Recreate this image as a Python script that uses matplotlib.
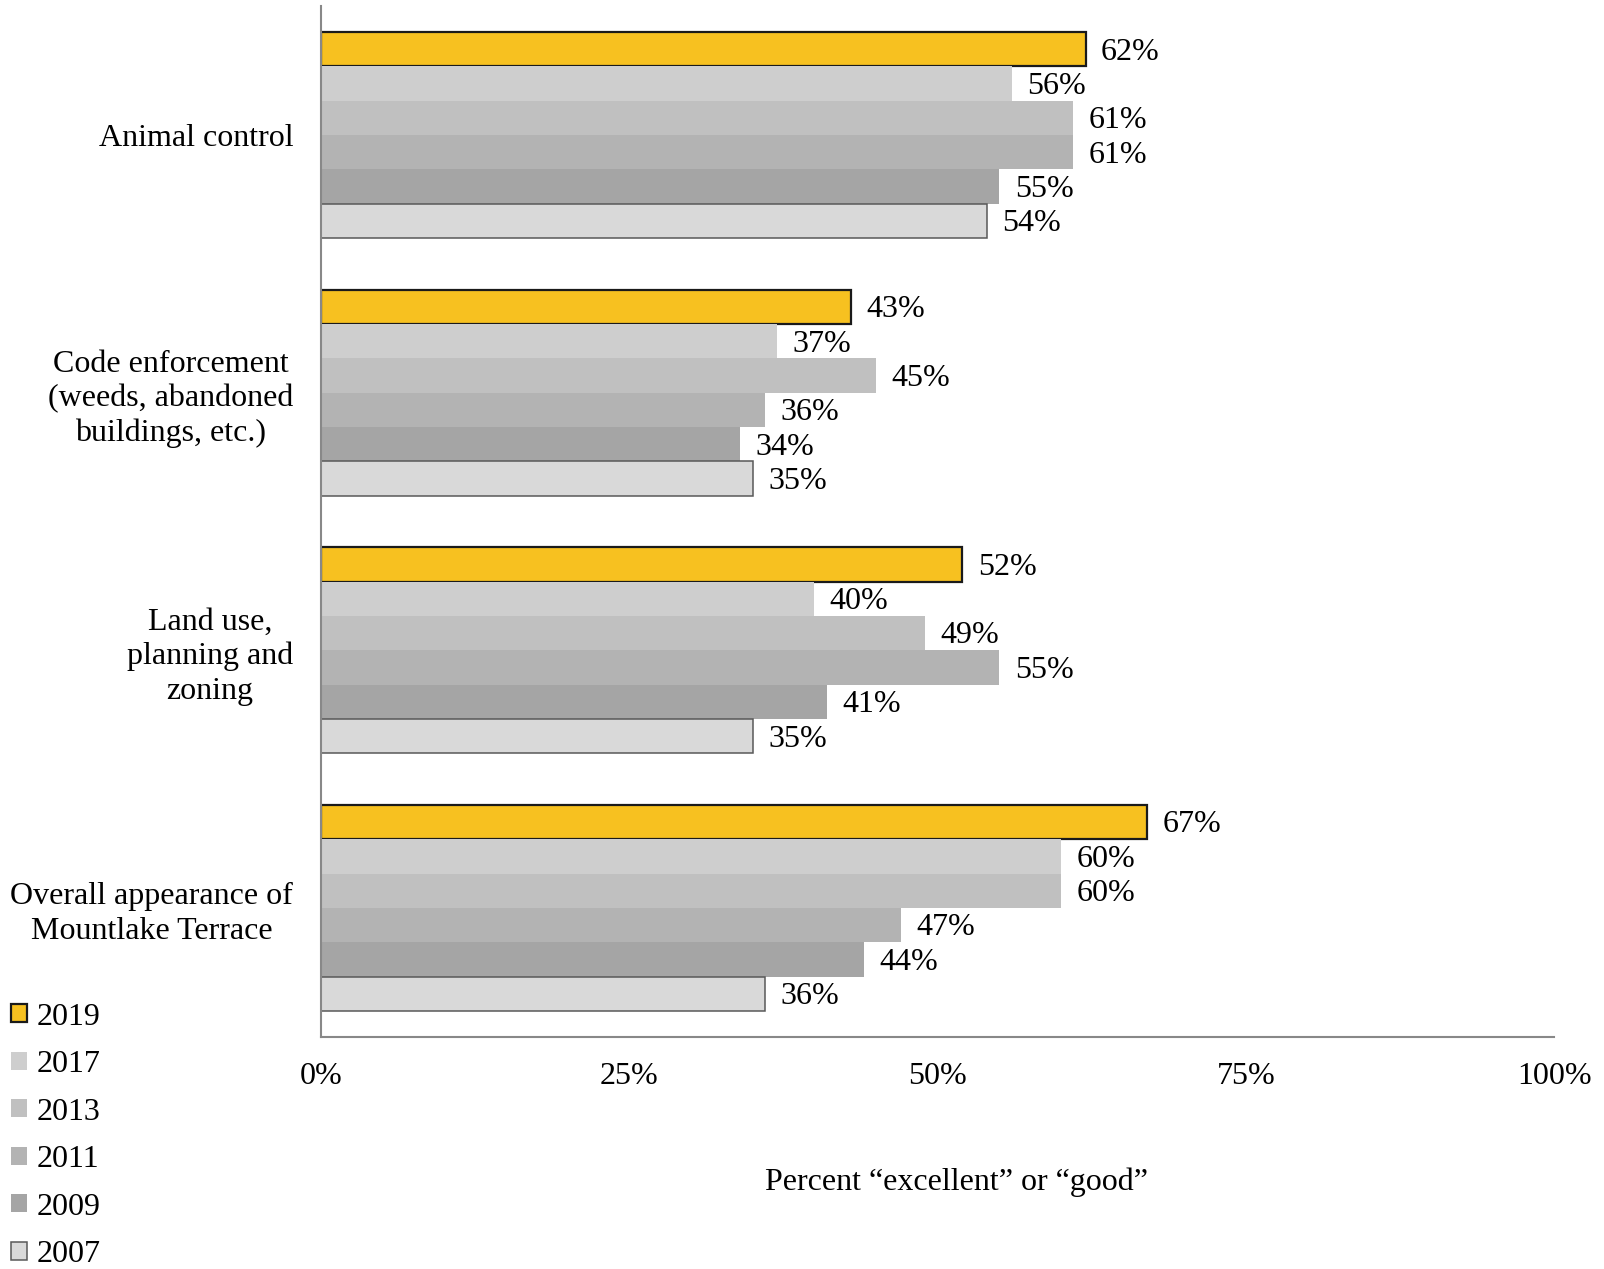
import matplotlib.pyplot as plt
import numpy as np

plt.rcParams['font.family'] = ['Liberation Serif', 'DejaVu Serif']

# Datos
categorias = ["Animal control",
              "Code enforcement\n(weeds, abandoned\nbuildings, etc.)",
              "Land use,\nplanning and\nzoning",
              "Overall appearance of\nMountlake Terrace"]
anios = ["2019", "2017", "2013", "2011", "2009", "2007"]
v2019 = [62, 43, 52, 67]
v2017 = [56, 37, 40, 60]
v2013 = [61, 45, 49, 60]
v2011 = [61, 36, 55, 47]
v2009 = [55, 34, 41, 44]
v2007 = [54, 35, 35, 36]
series = [v2019, v2017, v2013, v2011, v2009, v2007]

colores = ["#F7C120", "#CECECE", "#C0C0C0", "#B3B3B3", "#A5A5A5", "#D9D9D9"]
bordes = ["#1A1A1A", "none", "none", "none", "none", "#595959"]
grosor = [1.6, 0, 0, 0, 0, 1.1]
fs = 23

fig = plt.figure(figsize=(16.04, 12.69), dpi=100)
ax = fig.add_axes([0.2001, 0.183, 0.769, 0.812])

y = np.arange(len(categorias))
alto = 0.8 / len(anios)
for i, (vals, anio) in enumerate(zip(series, anios)):
    pos = y - 0.4 + alto * (i + 0.5)
    ax.barh(pos, vals, height=alto, color=colores[i],
            edgecolor=bordes[i], linewidth=grosor[i], label=anio)
    for p, v in zip(pos, vals):
        ax.annotate(f"{v}%", (v, p), xytext=(11, -2), textcoords="offset points",
                    ha="left", va="center", fontsize=fs)

ax.set_xlim(0, 100)
ax.set_ylim(3.5, -0.5)
ax.set_yticks(y)
ax.set_yticklabels(categorias, fontsize=fs, multialignment="center", linespacing=1.24)
ax.set_xticks([0, 25, 50, 75, 100])
ax.set_xticklabels(["0%", "25%", "50%", "75%", "100%"], fontsize=fs)
ax.tick_params(axis="both", length=0)
ax.tick_params(axis="y", pad=20)
ax.tick_params(axis="x", pad=18)
for s in ["top", "right"]:
    ax.spines[s].set_visible(False)
ax.spines["left"].set_color("#888888")
ax.spines["bottom"].set_color("#888888")
ax.spines["left"].set_linewidth(1.5)
ax.spines["bottom"].set_linewidth(1.5)

fig.text(957 / 1604, 1 - 1182 / 1269, "Percent \u201cexcellent\u201d or \u201cgood\u201d",
         fontsize=fs, ha="center", va="center")

fig.legend(loc="upper left", bbox_to_anchor=(0.007, 0.21), frameon=False,
           fontsize=fs, handlelength=0.5, handleheight=0.5, handletextpad=0.28,
           labelspacing=0.58, borderpad=0, borderaxespad=0)

fig.savefig("out.png", dpi=100)
